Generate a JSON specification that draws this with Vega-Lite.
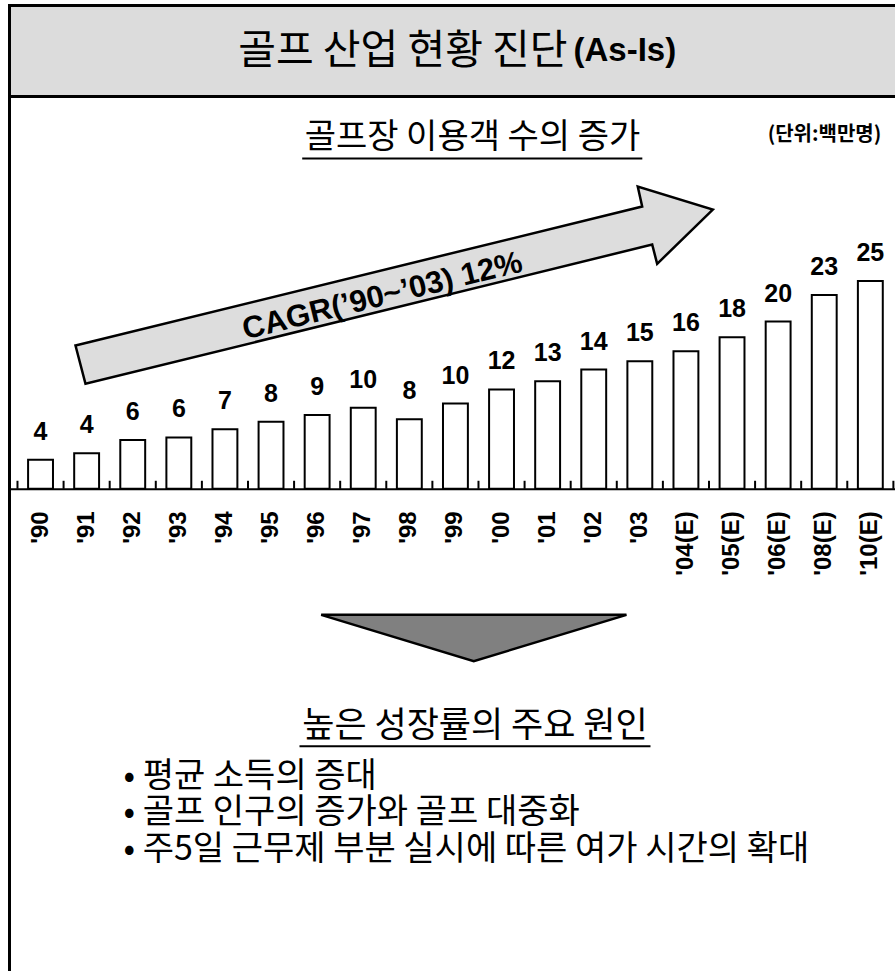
{
  "$schema": "https://vega.github.io/schema/vega-lite/v6.json",
  "background": "white",
  "padding": {"left": 7.5, "top": 3.5, "right": 0, "bottom": 0},
  "spacing": 0,
  "bounds": "flush",
  "config": {
    "view": {"stroke": "black", "strokeWidth": 3},
    "font": "Noto Sans CJK KR",
    "text": {"color": "black"}
  },
  "datasets": {
    "bars": [
      {"year": "'90", "value": 3.5, "label": "4"},
      {"year": "'91", "value": 4.3, "label": "4"},
      {"year": "'92", "value": 5.9, "label": "6"},
      {"year": "'93", "value": 6.2, "label": "6"},
      {"year": "'94", "value": 7.2, "label": "7"},
      {"year": "'95", "value": 8.1, "label": "8"},
      {"year": "'96", "value": 8.9, "label": "9"},
      {"year": "'97", "value": 9.8, "label": "10"},
      {"year": "'98", "value": 8.4, "label": "8"},
      {"year": "'99", "value": 10.3, "label": "10"},
      {"year": "'00", "value": 12.0, "label": "12"},
      {"year": "'01", "value": 13.0, "label": "13"},
      {"year": "'02", "value": 14.4, "label": "14"},
      {"year": "'03", "value": 15.4, "label": "15"},
      {"year": "'04(E)", "value": 16.6, "label": "16"},
      {"year": "'05(E)", "value": 18.3, "label": "18"},
      {"year": "'06(E)", "value": 20.2, "label": "20"},
      {"year": "'08(E)", "value": 23.4, "label": "23"},
      {"year": "'10(E)", "value": 25.1, "label": "25"}
    ],
    "arrow": [
      {"i": 0, "x": 0.758, "y": 17.31},
      {"i": 1, "x": 13.051, "y": 34.09},
      {"i": 2, "x": 12.955, "y": 36.51},
      {"i": 3, "x": 14.583, "y": 33.73},
      {"i": 4, "x": 13.376, "y": 27.17},
      {"i": 5, "x": 13.268, "y": 29.50},
      {"i": 6, "x": 0.975, "y": 12.68}
    ],
    "triangle": [
      {"i": 0, "x": 6.088, "y": -15.22},
      {"i": 1, "x": 12.710, "y": -15.22},
      {"i": 2, "x": 9.398, "y": -20.82}
    ]
  },
  "vconcat": [
    {
      "width": 896,
      "height": 91,
      "view": {"fill": "#dcdcdc", "stroke": "black", "strokeWidth": 3},
      "data": {"values": [{"main": "골프 산업 현황 진단", "tag": "(As-Is)"}]},
      "layer": [
        {
          "mark": {"type": "text", "align": "right", "baseline": "middle", "dx": 110, "dy": 1, "font": "Noto Sans CJK KR", "fontSize": 41, "color": "black"},
          "encoding": {"text": {"field": "main", "type": "nominal"}}
        },
        {
          "mark": {"type": "text", "align": "left", "baseline": "middle", "dx": 116, "font": "Liberation Sans", "fontWeight": "bold", "fontSize": 33, "color": "black"},
          "encoding": {"text": {"field": "tag", "type": "nominal"}}
        }
      ]
    },
    {
      "width": 896,
      "height": 880,
      "view": {"stroke": "black", "strokeWidth": 3},
      "layer": [
        {
          "data": {"name": "bars"},
          "encoding": {
            "x": {
              "field": "year", "type": "nominal", "sort": null,
              "scale": {"paddingInner": 0.46, "paddingOuter": 0.448, "align": 0.45},
              "axis": {
                "title": null, "orient": "bottom", "offset": -487.7,
                "labelAngle": -90, "labelAlign": "right", "labelBaseline": "middle",
                "labelFont": "Liberation Sans", "labelFontWeight": "bold", "labelFontSize": 24, "labelColor": "black",
                "labelPadding": 22, "ticks": false,
                "domainColor": "black", "domainWidth": 2, "grid": false
              }
            },
            "y": {"field": "value", "type": "quantitative", "scale": {"domain": [-58.9, 47.38], "nice": false}, "axis": null}
          },
          "layer": [
            {
              "mark": {"type": "bar", "fill": "white", "stroke": "black", "strokeWidth": 2},
              "encoding": {"y2": {"datum": 0}}
            },
            {
              "mark": {"type": "rule", "color": "black", "strokeWidth": 2},
              "encoding": {
                "x": {"field": "year", "type": "nominal", "sort": null, "bandPosition": -0.426},
                "y": {"datum": 0},
                "y2": {"datum": 0.97}
              }
            },
            {
              "transform": [{"filter": "datum.year === \"'10(E)\""}],
              "mark": {"type": "rule", "color": "black", "strokeWidth": 2},
              "encoding": {
                "x": {"field": "year", "type": "nominal", "sort": null, "bandPosition": 1.426},
                "y": {"datum": 0},
                "y2": {"datum": 0.97}
              }
            },
            {
              "mark": {"type": "text", "font": "Liberation Sans", "fontWeight": "bold", "fontSize": 25, "baseline": "alphabetic", "dy": -20, "color": "black"},
              "encoding": {"text": {"field": "label", "type": "nominal"}}
            }
          ]
        },
        {
          "layer": [
            {
              "data": {"name": "arrow"},
              "mark": {"type": "line", "interpolate": "linear-closed", "fill": "#dddddd", "stroke": "black", "strokeWidth": 2.5, "strokeJoin": "miter"},
              "encoding": {
                "x": {"field": "x", "type": "quantitative", "scale": {"domain": [-0.6735, 18.763], "nice": false, "zero": false}, "axis": null},
                "y": {"field": "y", "type": "quantitative", "scale": {"domain": [-58.9, 47.38], "nice": false, "zero": false}, "axis": null},
                "order": {"field": "i", "type": "quantitative"}
              }
            },
            {
              "data": {"name": "triangle"},
              "mark": {"type": "line", "interpolate": "linear-closed", "fill": "#808080", "stroke": "black", "strokeWidth": 2.5, "strokeJoin": "miter"},
              "encoding": {
                "x": {"field": "x", "type": "quantitative", "axis": null},
                "y": {"field": "y", "type": "quantitative", "axis": null},
                "order": {"field": "i", "type": "quantitative"}
              }
            },
            {
              "data": {"values": [{"t": "CAGR(’90~’03) 12%"}]},
              "mark": {"type": "text", "angle": 346.2, "align": "center", "baseline": "middle", "font": "Liberation Sans", "fontWeight": "bold", "fontSize": 31, "color": "black"},
              "encoding": {"text": {"field": "t", "type": "nominal"}, "x": {"datum": 7.418, "type": "quantitative", "axis": null}, "y": {"datum": 23.22, "type": "quantitative", "axis": null}}
            },
            {
              "data": {"values": [{"t": "골프장 이용객 수의 증가"}]},
              "mark": {"type": "text", "align": "center", "baseline": "middle", "font": "Noto Sans CJK KR", "fontSize": 34, "color": "black"},
              "encoding": {"text": {"field": "t", "type": "nominal"}, "x": {"datum": 9.37, "type": "quantitative", "axis": null}, "y": {"datum": 42.37, "type": "quantitative", "axis": null}}
            },
            {
              "data": {"values": [{}]},
              "mark": {"type": "rule", "color": "black", "strokeWidth": 2},
              "encoding": {"x": {"datum": 5.676, "type": "quantitative", "axis": null}, "x2": {"datum": 13.054}, "y": {"datum": 39.89, "type": "quantitative", "axis": null}}
            },
            {
              "data": {"values": [{"t": "(단위:백만명)"}]},
              "mark": {"type": "text", "align": "center", "baseline": "middle", "font": "Noto Sans CJK KR", "fontWeight": "bold", "fontSize": 20, "color": "black"},
              "encoding": {"text": {"field": "t", "type": "nominal"}, "x": {"datum": 17.005, "type": "quantitative", "axis": null}, "y": {"datum": 42.75, "type": "quantitative", "axis": null}}
            },
            {
              "data": {"values": [{"t": "높은 성장률의 주요 원인"}]},
              "mark": {"type": "text", "align": "center", "baseline": "middle", "font": "Noto Sans CJK KR", "fontSize": 35, "color": "black"},
              "encoding": {"text": {"field": "t", "type": "nominal"}, "x": {"datum": 9.424, "type": "quantitative", "axis": null}, "y": {"datum": -28.6, "type": "quantitative", "axis": null}}
            },
            {
              "data": {"values": [{}]},
              "mark": {"type": "rule", "color": "black", "strokeWidth": 2},
              "encoding": {"x": {"datum": 5.617, "type": "quantitative", "axis": null}, "x2": {"datum": 13.231}, "y": {"datum": -31.1, "type": "quantitative", "axis": null}}
            },
            {
              "data": {"values": [{}]},
              "mark": {"type": "text", "text": ["• 평균 소득의 증대", "• 골프 인구의 증가와 골프 대중화", "• 주5일 근무제 부분 실시에 따른 여가 시간의 확대"], "align": "left", "baseline": "middle", "lineHeight": 36.5, "font": "Noto Sans CJK KR", "fontSize": 34, "color": "black"},
              "encoding": {"x": {"datum": 1.799, "type": "quantitative", "axis": null}, "y": {"datum": -34.75, "type": "quantitative", "axis": null}}
            }
          ]
        }
      ],
      "resolve": {"scale": {"x": "independent"}, "axis": {"x": "independent"}}
    }
  ]
}
